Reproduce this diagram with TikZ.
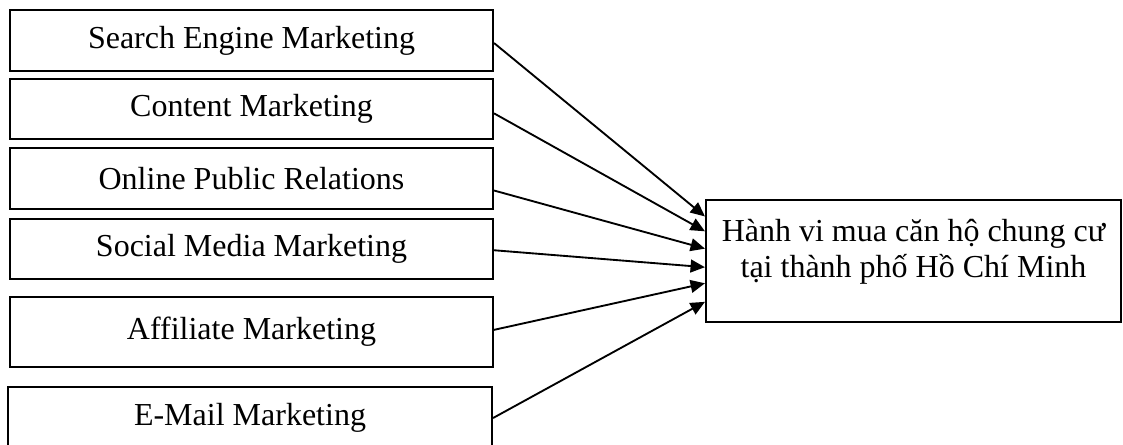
\documentclass[tikz,border=0pt]{standalone}
\usepackage{fontspec}
\setmainfont{Liberation Serif}
\usetikzlibrary{calc,arrows.meta}
\tikzset{
  factor/.style={draw=black, line width=0.8pt, inner sep=0pt, minimum width=181.1pt, minimum height=22.9pt, font=\fontsize{12pt}{13.5pt}\selectfont},
  result/.style={draw=black, line width=0.8pt, inner sep=0pt, minimum width=155.6pt, minimum height=45.6pt, align=center, font=\fontsize{12pt}{13.5pt}\selectfont},
  link/.style={black, line width=0.7pt, -{Triangle[length=5.4pt,width=4.8pt]}}
}

\begin{document}
\begin{tikzpicture}[x=0.375pt,y=-0.375pt]
\useasboundingbox (0,0) rectangle (1123,444);
\node [factor] (sem) at (251.5,40.5) {Search Engine Marketing};
\node [factor, minimum height=22.5pt] (cm) at (251.5,109) {Content Marketing};
\node [factor] (opr) at (251.5,178.5) {Online Public Relations};
\node [factor, minimum height=22.5pt] (smm) at (251.5,249) {Social Media Marketing};
\node [factor, minimum height=26.25pt] (am) at (251.5,332) {Affiliate Marketing};
\node [factor, minimum width=181.5pt, minimum height=23.25pt] (em) at (250,418) {E-Mail Marketing};
\node [result] (res) at (913.5,261) {Hành vi mua căn hộ chung cư\\tại thành phố Hồ Chí Minh\\[-3.7pt]\mbox{}};
%\draw [link] (sem.east) to (res.west);
\draw [link] ($(sem.north east)!0.54!(sem.south east)$) to ($(res.north west)!0.14!(res.south west)$);
\draw [link] ($(cm.north east)!0.57!(cm.south east)$) to ($(res.north west)!0.26!(res.south west)$);
\draw [link] ($(opr.north east)!0.69!(opr.south east)$) to ($(res.north west)!0.40!(res.south west)$);
\draw [link] ($(smm.north east)!0.52!(smm.south east)$) to ($(res.north west)!0.55!(res.south west)$);
\draw [link] ($(am.north east)!0.47!(am.south east)$) to ($(res.north west)!0.68!(res.south west)$);
\draw [link] (em.east) to ($(res.north west)!0.83!(res.south west)$);
\end{tikzpicture}
\end{document}
